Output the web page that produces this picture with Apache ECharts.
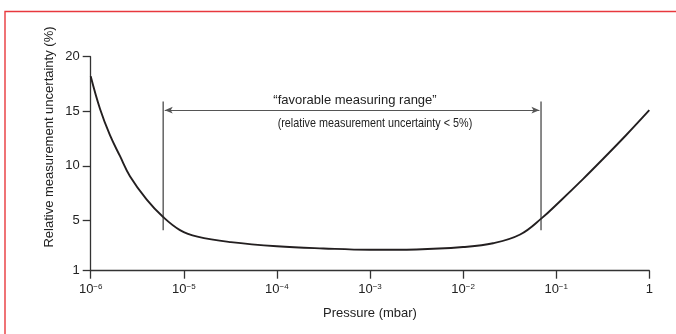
<!DOCTYPE html>
<html>
<head>
<meta charset="utf-8">
<script src="https://cdn.jsdelivr.net/npm/echarts@6/dist/echarts.min.js"></script>
<style>
html,body{margin:0;padding:0;background:#fff;}
#chart{width:676px;height:334px;}
</style>
</head>
<body>
<div id="chart"></div>
<script>
// ---- data ----
var pressure = [1e-6, 1.26e-6, 1.61e-6, 2.06e-6, 2.64e-6, 4.0e-6, 6.0e-6, 9.1e-6, 1.4e-5, 3.2e-5, 1e-4, 3.16e-4, 1e-3, 3.16e-3, 1e-2, 2.1e-2, 4.1e-2, 7.0e-2, 0.11, 0.195, 0.316, 0.562, 1];
var uncertainty = [18.2, 15.2, 12.8, 10.9, 9.05, 6.9, 5.3, 4.1, 3.5, 3.0, 2.62, 2.42, 2.3, 2.33, 2.55, 2.9, 3.7, 5.2, 6.75, 8.8, 10.6, 12.8, 15.1];
var rangeBounds = [6.0e-6, 6.87e-2];   // favorable measuring range limits (mbar)
var boundLineY = [4.1, 15.9];          // extent of vertical limit lines
var arrowY = 15.1;
var xTickExponents = [-6, -5, -4, -3, -2, -1, 0];
var yTickValues = [0.38, 5, 10, 15, 20];
var yTickLabels = ['1', '5', '10', '15', '20'];
var annotationTexts = ['\u201cfavorable measuring range\u201d', '(relative measurement uncertainty < 5%)'];
var annotationPos = [[6.9e-4, 15.95], [1.13e-3, 13.85]];
var annotationScaleX = [1, 0.83];
var xAxisTitle = 'Pressure (mbar)';
var yAxisTitle = 'Relative measurement uncertainty (%)';

var FONT = "'Liberation Sans Narrow','Arial Narrow','Liberation Sans',sans-serif";
var AX = '#333333';

var curve = pressure.map(function (p, i) { return [p, uncertainty[i]]; });

var chart = echarts.init(document.getElementById('chart'), null, {renderer: 'canvas'});
var option = {
  animation: false,
  backgroundColor: '#ffffff',
  grid: {left: 90.7, right: 26.7, top: 56.7, bottom: 63.3, containLabel: false},
  xAxis: {
    type: 'log', logBase: 10, min: 1e-6, max: 1, interval: 1,
    name: xAxisTitle, nameLocation: 'middle', nameGap: 36,
    nameTextStyle: {fontFamily: FONT, fontSize: 13, color: '#222'},
    axisLine: {show: true, lineStyle: {color: AX, width: 1.3}},
    axisTick: {show: true, length: 8, lineStyle: {color: AX, width: 1.3}},
    splitLine: {show: false},
    minorTick: {show: false},
    axisLabel: {
      margin: 12, fontFamily: FONT, fontSize: 13, color: '#222',
      formatter: function (v) {
        var e = Math.round(Math.log10(v));
        if (xTickExponents.indexOf(e) < 0) return '';
        if (e === 0) return '1';
        return '10{sup|\u2212' + (-e) + '}';
      },
      rich: {sup: {fontFamily: FONT, fontSize: 8, color: '#222', verticalAlign: 'top', padding: [0, 0, 6, 0]}}
    }
  },
  yAxis: {
    type: 'value', min: yTickValues[0], max: yTickValues[yTickValues.length - 1],
    axisLine: {show: true, lineStyle: {color: AX, width: 1.3}},
    axisTick: {show: true, length: 8, customValues: yTickValues, lineStyle: {color: AX, width: 1.3}},
    splitLine: {show: false},
    axisLabel: {
      margin: 11, fontFamily: FONT, fontSize: 13, color: '#222',
      customValues: yTickValues,
      formatter: function (v) {
        var best = 0, d = Infinity;
        for (var i = 0; i < yTickValues.length; i++) {
          var dd = Math.abs(yTickValues[i] - v);
          if (dd < d) { d = dd; best = i; }
        }
        return yTickLabels[best];
      }
    }
  },
  graphic: [
    {type: 'rect', shape: {x: 5, y: 11.5, width: 800, height: 500}, style: {fill: 'none', stroke: '#e8383d', lineWidth: 1.4}, silent: true},
    {type: 'text', x: 49, y: 137, rotation: Math.PI / 2,
     style: {text: yAxisTitle, font: '13px ' + FONT, fill: '#222', align: 'center', verticalAlign: 'middle'}}
  ],
  series: [
    {
      type: 'line', data: curve, smooth: 0.4, showSymbol: false, symbol: 'none',
      lineStyle: {color: '#231f20', width: 1.9}, silent: true, z: 3
    },
    {
      type: 'line', data: [[rangeBounds[0], boundLineY[0]], [rangeBounds[0], boundLineY[1]]],
      showSymbol: false, symbol: 'none', lineStyle: {color: '#2a2a2a', width: 1.1}, silent: true
    },
    {
      type: 'line', data: [[rangeBounds[1], boundLineY[0]], [rangeBounds[1], boundLineY[1]]],
      showSymbol: false, symbol: 'none', lineStyle: {color: '#2a2a2a', width: 1.1}, silent: true,
      markLine: {
        silent: true, symbol: ['arrow', 'arrow'], symbolSize: [5, 8], label: {show: false},
        lineStyle: {color: '#555555', width: 1.1, type: 'solid'},
        data: [[{coord: [rangeBounds[0] * 1.04, arrowY]}, {coord: [rangeBounds[1] / 1.04, arrowY]}]]
      }
    }
  ]
};
chart.setOption(option);

// annotation texts anchored at data coordinates through the grid's scales
var extra = annotationTexts.map(function (t, i) {
  var px = chart.convertToPixel({gridIndex: 0}, annotationPos[i]);
  return {type: 'text', x: px[0], y: px[1], scaleX: annotationScaleX[i], silent: true, z: 10,
          style: {text: t, font: '13px ' + FONT, fill: '#222', align: 'center', verticalAlign: 'middle'}};
});
chart.setOption({graphic: option.graphic.concat(extra)});
</script>
</body>
</html>
